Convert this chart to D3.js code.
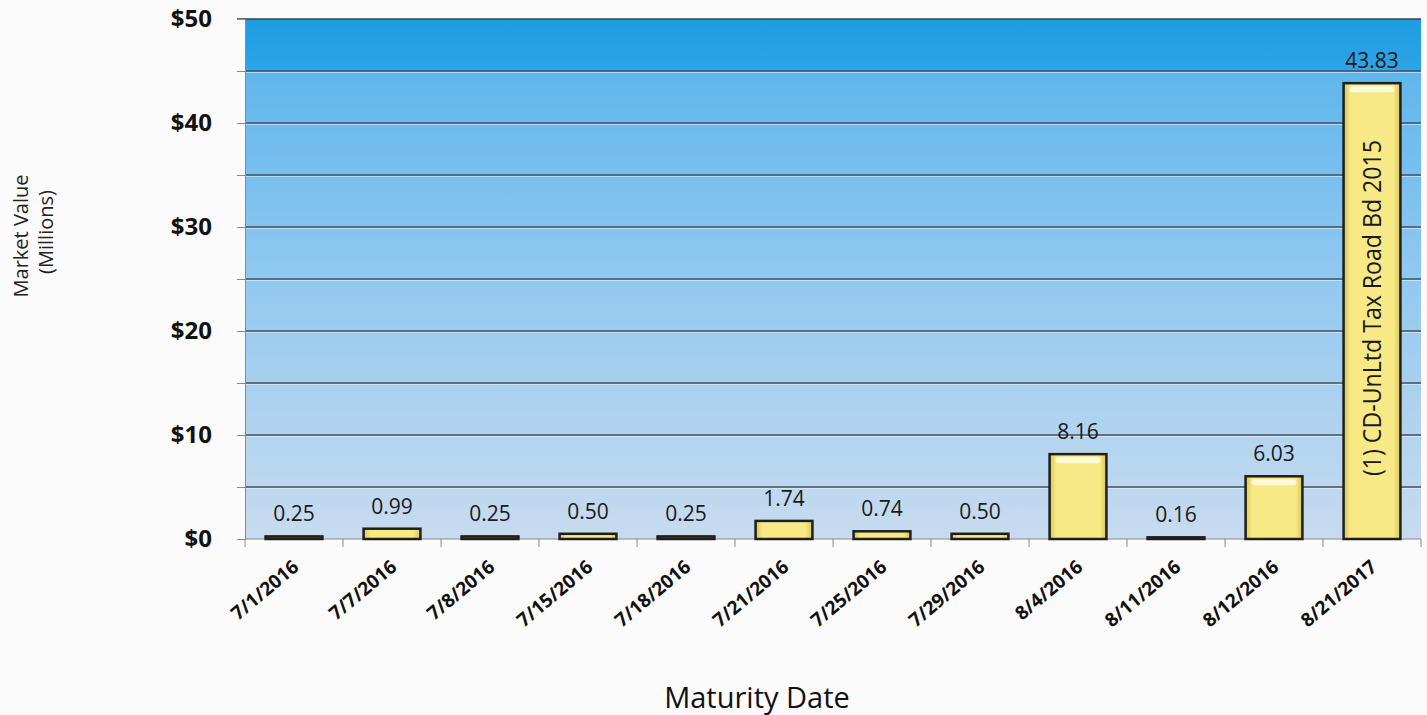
<!DOCTYPE html>
<html>
<head>
<meta charset="utf-8">
<script src="https://cdn.jsdelivr.net/npm/d3@7"></script>
<style>
  body { margin: 0; background: #fbfbfb; }
  text { font-family: "Open Sans", "Noto Sans", sans-serif; }
</style>
</head>
<body>
<div id="chart"></div>
<script>
// dane
const dates = ['7/1/2016', '7/7/2016', '7/8/2016', '7/15/2016', '7/18/2016', '7/21/2016',
  '7/25/2016', '7/29/2016', '8/4/2016', '8/11/2016', '8/12/2016', '8/21/2017'];
const values = [0.25, 0.99, 0.25, 0.50, 0.25, 1.74, 0.74, 0.50, 8.16, 0.16, 6.03, 43.83];
const yTicks = [0, 10, 20, 30, 40, 50];
const gridValues = [5, 10, 15, 20, 25, 30, 35, 40, 45];
const note = '(1) CD-UnLtd Tax Road Bd 2015';

const width = 1427, height = 715;
const margin = { top: 19, right: 6, bottom: 176, left: 245 };

const svg = d3.select('#chart').append('svg')
  .attr('width', width)
  .attr('height', height);

const defs = svg.append('defs');

// tlo obszaru wykresu
const bg = defs.append('linearGradient').attr('id', 'bg')
  .attr('x1', 0).attr('y1', 0).attr('x2', 0).attr('y2', 1);
bg.append('stop').attr('offset', '0%').attr('stop-color', '#1d9ce2');
bg.append('stop').attr('offset', '10%').attr('stop-color', '#2ea5e6');
bg.append('stop').attr('offset', '10.1%').attr('stop-color', '#5fb6ec');
bg.append('stop').attr('offset', '50%').attr('stop-color', '#92c9f0');
bg.append('stop').attr('offset', '100%').attr('stop-color', '#c8dbef');

// wypelnienie slupkow
const barGrad = defs.append('linearGradient').attr('id', 'bar')
  .attr('x1', 0).attr('y1', 0).attr('x2', 1).attr('y2', 0);
barGrad.append('stop').attr('offset', '0%').attr('stop-color', '#d8c452');
barGrad.append('stop').attr('offset', '12%').attr('stop-color', '#f7ea86');
barGrad.append('stop').attr('offset', '88%').attr('stop-color', '#f7ea86');
barGrad.append('stop').attr('offset', '100%').attr('stop-color', '#d8c452');

const x = d3.scaleBand()
  .domain(dates)
  .range([margin.left, width - margin.right])
  .paddingInner(0.42)
  .paddingOuter(0.21);

const y = d3.scaleLinear()
  .domain([0, 50])
  .range([height - margin.bottom, margin.top]);

const x0 = margin.left, x1 = width - margin.right;

svg.append('rect')
  .attr('x', x0).attr('y', y(50))
  .attr('width', x1 - x0).attr('height', y(0) - y(50))
  .attr('fill', 'url(#bg)');

// linie siatki
svg.append('g').selectAll('line')
  .data(gridValues)
  .join('line')
  .attr('x1', x0).attr('x2', x1)
  .attr('y1', d => y(d)).attr('y2', d => y(d))
  .attr('stroke', '#4a4f58')
  .attr('stroke-width', 1.5);

svg.append('g').selectAll('line')
  .data(gridValues)
  .join('line')
  .attr('x1', x0).attr('x2', x1)
  .attr('y1', d => y(d) + 1.5).attr('y2', d => y(d) + 1.5)
  .attr('stroke', '#e8f2fb')
  .attr('stroke-opacity', 0.6)
  .attr('stroke-width', 1);

// gorna krawedz
svg.append('line')
  .attr('x1', x0 - 8).attr('x2', x1)
  .attr('y1', y(50)).attr('y2', y(50))
  .attr('stroke', '#3d4148').attr('stroke-width', 1.5);

// os Y
const yAxis = svg.append('g')
  .attr('transform', `translate(${x0},0)`)
  .call(d3.axisLeft(y).tickValues(d3.range(0, 55, 5)).tickSize(8).tickFormat(''));
yAxis.select('.domain').attr('stroke', '#8a8a8a');
yAxis.selectAll('.tick line').attr('stroke', '#8a8a8a');

svg.append('g').selectAll('text')
  .data(yTicks)
  .join('text')
  .attr('x', 212)
  .attr('y', d => y(d))
  .attr('dy', '0.35em')
  .attr('text-anchor', 'end')
  .attr('font-size', 24)
  .attr('font-weight', 'bold')
  .attr('fill', '#111')
  .text(d => '$' + d);

// os X
const xAxis = svg.append('g')
  .attr('transform', `translate(0,${y(0)})`);
xAxis.append('line')
  .attr('x1', x0).attr('x2', x1)
  .attr('stroke', '#8a8a8a').attr('stroke-width', 1.2);
const step = x.step();
xAxis.selectAll('.tk')
  .data(d3.range(dates.length + 1))
  .join('line')
  .attr('class', 'tk')
  .attr('x1', i => x0 + i * step).attr('x2', i => x0 + i * step)
  .attr('y1', 0).attr('y2', 8)
  .attr('stroke', '#8a8a8a');

svg.append('g').selectAll('text')
  .data(dates)
  .join('text')
  .attr('transform', d => `translate(${x(d) + x.bandwidth() / 2 + 6},${y(0) + 30}) rotate(-40)`)
  .attr('text-anchor', 'end')
  .attr('font-size', 19)
  .attr('font-weight', 'bold')
  .attr('fill', '#111')
  .text(d => d);

// slupki
const bars = svg.append('g').selectAll('g')
  .data(dates.map((d, i) => ({ date: d, value: values[i] })))
  .join('g');

bars.append('rect')
  .attr('x', d => x(d.date))
  .attr('y', d => y(d.value))
  .attr('width', x.bandwidth())
  .attr('height', d => y(0) - y(d.value))
  .attr('fill', 'url(#bar)')
  .attr('stroke', '#1e1e1e')
  .attr('stroke-width', 2.5);

// blysk u gory slupka
bars.filter(d => y(0) - y(d.value) > 20)
  .append('rect')
  .attr('x', d => x(d.date) + 6)
  .attr('y', d => y(d.value) + 3)
  .attr('width', x.bandwidth() - 12)
  .attr('height', 6)
  .attr('rx', 3)
  .attr('fill', '#fffbe0')
  .attr('opacity', 0.9);

bars.append('text')
  .attr('x', d => x(d.date) + x.bandwidth() / 2)
  .attr('y', d => y(d.value) - 15)
  .attr('text-anchor', 'middle')
  .attr('font-size', 21)
  .attr('fill', '#1a1a1a')
  .text(d => d.value.toFixed(2));

// opis najwyzszego slupka
const last = dates[dates.length - 1];
svg.append('text')
  .attr('transform', `translate(${x(last) + x.bandwidth() / 2 + 9},308) rotate(-90)`)
  .attr('text-anchor', 'middle')
  .attr('font-size', 25)
  .attr('fill', '#1a1a1a')
  .attr('textLength', 336)
  .attr('lengthAdjust', 'spacingAndGlyphs')
  .text(note);

// tytuly osi
svg.append('text')
  .attr('transform', 'translate(28,236) rotate(-90)')
  .attr('text-anchor', 'middle')
  .attr('font-size', 20)
  .attr('fill', '#222')
  .text('Market Value');
svg.append('text')
  .attr('transform', 'translate(53,232) rotate(-90)')
  .attr('text-anchor', 'middle')
  .attr('font-size', 20)
  .attr('fill', '#222')
  .text('(Millions)');

svg.append('text')
  .attr('x', 757)
  .attr('y', 708)
  .attr('text-anchor', 'middle')
  .attr('font-size', 29)
  .attr('fill', '#111')
  .text('Maturity Date');
</script>
</body>
</html>
